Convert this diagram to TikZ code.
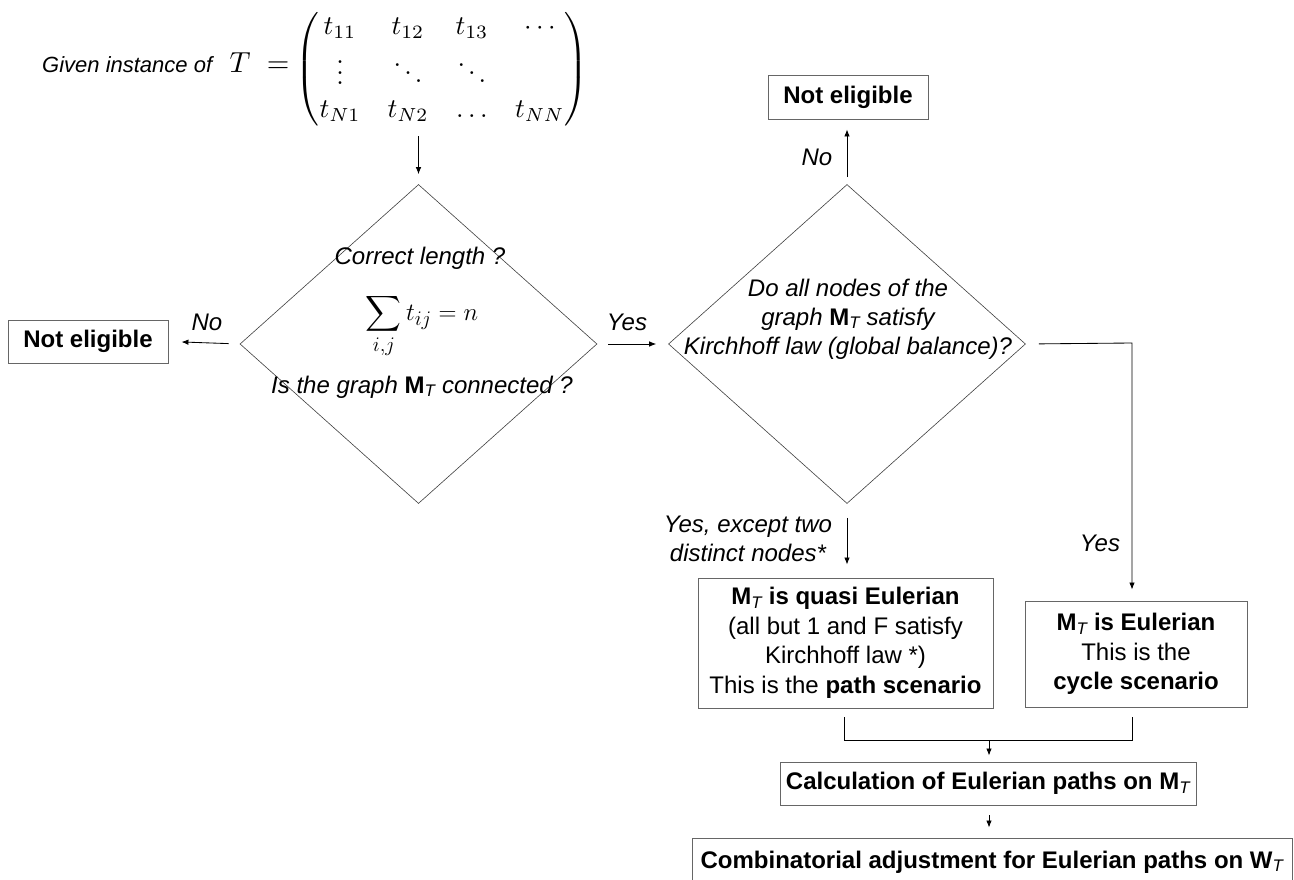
\documentclass[tikz,border=0pt]{standalone}
\usepackage{amsmath}
\usepackage{graphicx}
\usepackage[no-math]{fontspec}
\setmainfont{Liberation Sans}
\usetikzlibrary{arrows.meta,shapes.geometric,calc}
\newcommand{\MTs}[1]{#1\textsubscript{\mdseries\itshape T}}
\newcommand{\MTx}[1]{{\bfseries\upshape #1}\textsubscript{\mdseries\itshape T}}
\tikzset{
  arr/.style={-{Latex[length=7pt,width=5.5pt]}, line width=0.85pt, draw=black},
  conn/.style={line width=0.85pt, draw=black},
  boxnode/.style={draw=black!60, line width=0.9pt, font=\fontsize{24}{29.5}\selectfont, align=center, inner sep=0pt},
  lbl/.style={font=\fontsize{24}{29}\selectfont\itshape, inner sep=0pt, align=center},
  dia/.style={draw=black!75, line width=0.6pt, diamond, inner sep=0pt, minimum width=357pt, minimum height=319pt}
}
\begin{document}
\begin{tikzpicture}[x=1pt,y=-1pt]
\useasboundingbox[fill=white] (0,0) rectangle (1294,880);
% input
\node[lbl, anchor=west, font=\fontsize{22}{26}\selectfont\itshape] (gv) at (42,65) {Given instance of};
\node[anchor=base, inner sep=0pt] (teq) at (259.5,73) {\scalebox{2.9}{$T\;=$}};
\node[inner sep=0pt] (mat) at (442,69.5) {\scalebox{2.7}{\fontfamily{lmr}\selectfont$\begin{pmatrix} t_{11} & t_{12} & t_{13} & \cdots\\ \vdots & \ddots & \ddots & \\ t_{N1} & t_{N2} & \ldots & t_{NN}\end{pmatrix}$}};
% diamonds
\node[dia] (d1) at (418.5,344) {};
\node[dia] (d2) at (847,344) {};
\node[lbl] (d1a) at (420,258) {Correct length ?};
\node[inner sep=0pt, anchor=base] (d1b) at (422,320) {\fontsize{31}{36}\selectfont$\displaystyle\sum_{i,j} t_{ij} = n$};
\node[lbl] (d1c) at (422,387) {Is the graph \MTx{M} connected ?};
\node[lbl] (d2t) at (848,319) {Do all nodes of the\\graph \MTx{M} satisfy\\Kirchhoff law (global balance)?};
% boxes
\node[boxnode, minimum width=160pt, minimum height=43pt] (ne1) at (88,341.5) {\textbf{Not eligible}};
\node[boxnode, minimum width=160pt, minimum height=44pt] (ne2) at (848,97) {\textbf{Not eligible}};
\node[boxnode, minimum width=295pt, minimum height=130pt] (qu) at (845.5,643) {\textbf{\MTs{M} is quasi Eulerian}\\(all but 1 and F satisfy\\Kirchhoff law *)\\This is the \textbf{path scenario}};
\node[boxnode, minimum width=222pt, minimum height=106pt] (eu) at (1136,654) {\textbf{\MTs{M} is Eulerian}\\This is the\\\textbf{cycle scenario}};
\node[boxnode, minimum width=416pt, minimum height=43pt] (ca) at (988,783.5) {\textbf{Calculation of Eulerian paths on \MTs{M}}};
\node[boxnode, minimum width=600pt, minimum height=48pt] (co) at (992,862) {\textbf{Combinatorial adjustment for Eulerian paths on \MTs{W}}};
% labels
\node[lbl] (no1) at (207,322) {No};
\node[lbl] (yes1) at (627,322) {Yes};
\node[lbl] (no2) at (817,157) {No};
\node[lbl] (yes2) at (1100,543) {Yes};
\node[lbl] (yes3) at (748,539) {Yes, except two\\distinct nodes*};
% connectors
\draw[arr, shorten <=9pt, shorten >=10pt] (d1.north |- mat.south) -- (d1.north);
\draw[arr, shorten <=11pt, shorten >=13pt] (d1.west) -- (ne1.east);
\draw[arr, shorten <=11pt, shorten >=12pt] (d1.east) -- (d2.west);
\draw[arr, shorten <=7pt, shorten >=10pt] (d2.north) -- (d2.north |- ne2.south);
\draw[arr, shorten <=14pt, shorten >=13pt] (d2.south) -- (d2.south |- qu.north);
\coordinate (c1) at (1132,343);
\draw[arr, shorten <=13pt, shorten >=11pt] (d2.east) -- (c1) -- (c1 |- eu.north);
\coordinate (m1) at (844,740);
\coordinate (m2) at (1132,740);
\coordinate (m) at (989,740);
\draw[conn, shorten <=9pt, shorten >=10pt] (m1 |- qu.south) -- (m1) -- (m2) -- (m2 |- eu.south);
\draw[arr, shorten >=6pt] (m) -- (m |- ca.north);
\draw[arr, shorten <=10pt, shorten >=10pt] (m |- ca.south) -- (m |- co.north);
\end{tikzpicture}
\end{document}
